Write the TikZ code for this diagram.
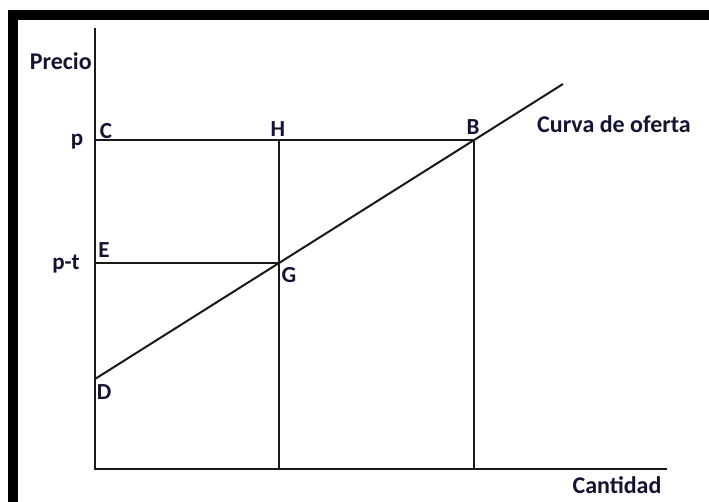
\documentclass[tikz,border=0pt]{standalone}
\usepackage{fontspec}
\setmainfont{Carlito}
\usepackage{xcolor}
\usetikzlibrary{positioning, calc}
\definecolor{frameblack}{RGB}{0,0,0}
\definecolor{lineblack}{RGB}{25,25,25}
\definecolor{textblue}{RGB}{20,20,50}
\tikzset{
  axisline/.style={draw=lineblack, line width=2pt},
  guideline/.style={draw=lineblack, line width=1.8pt},
  supplyline/.style={draw=lineblack, line width=2pt},
  ptlabel/.style={inner sep=0pt, font=\fontsize{23}{26}\selectfont\bfseries, text=textblue},
  axlabel/.style={inner sep=0pt, font=\fontsize{24}{27}\selectfont\bfseries, text=textblue},
}
\begin{document}
\begin{tikzpicture}[x=1pt, y=-1pt]
\useasboundingbox (0,0) rectangle (709,502);
% outer frame (top and left edges only show)
\fill[frameblack] (8,10) rectangle (709,20);
\fill[frameblack] (8,10) rectangle (18,502);

% key points
\coordinate (orig) at (95,469);
\coordinate (ytop) at (95,28);
\coordinate (xend) at (667,469);
\coordinate (ptC) at (95,140);
\coordinate (ptH) at (279,140);
\coordinate (ptB) at (474,140);
\coordinate (ptE) at (95,263);
\coordinate (ptG) at (279,263);
\coordinate (ptD) at (95,379);
\coordinate (send) at (563,84);
\coordinate (footH) at (279,469);
\coordinate (footB) at (474,469);

% axes
\draw[axisline] (ytop) -- (orig) -- (xend);

% price lines and quantities
\draw[guideline] (ptC) -- (ptB);
\draw[guideline] (ptE) -- (ptG);
\draw[guideline] (ptH) -- (footH);
\draw[guideline] (ptB) -- (footB);

% supply curve
\draw[supplyline] (ptD) -- (send);

% labels
\node[axlabel, anchor=east] (lprecio) at (92,61) {Precio};
\node[axlabel] (lcantidad) at (617,485) {Cantidad};
\node[axlabel] (lcurva) at (614,124) {Curva de oferta};
\node[ptlabel] (lp) at (77,142) {p};
\node[ptlabel] (lpt) at (66,264) {p-t};
\node[ptlabel] (lC) at (106,131) {C};
\node[ptlabel] (lH) at (278,129) {H};
\node[ptlabel] (lB) at (473,127) {B};
\node[ptlabel] (lE) at (104,250) {E};
\node[ptlabel] (lG) at (289,275) {G};
\node[ptlabel] (lD) at (104,392) {D};
\end{tikzpicture}
\end{document}
